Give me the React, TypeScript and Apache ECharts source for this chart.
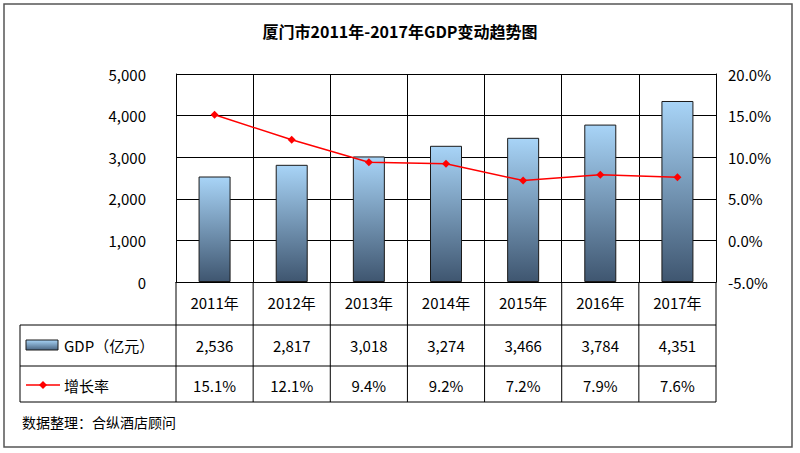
import { useEffect, useRef } from 'react';
import * as echarts from 'echarts';

const years = ['2011年', '2012年', '2013年', '2014年', '2015年', '2016年', '2017年'];
const gdp = [2536, 2817, 3018, 3274, 3466, 3784, 4351];
const growth = [15.1, 12.1, 9.4, 9.2, 7.2, 7.9, 7.6];

const FONT = '"Noto Sans CJK SC", "Noto Sans", sans-serif';

export default function App() {
  const chartRef = useRef<HTMLDivElement>(null);

  useEffect(() => {
    if (!chartRef.current) return;
    const chart = echarts.init(chartRef.current, null, { renderer: 'svg' });

    const gl = 176, gr = 716, gt = 74, gb = 282;
    const colW = (gr - gl) / years.length;
    const rowY = [282, 325, 366, 402];
    const tableL = 20;
    const lineStyle = { stroke: '#000', lineWidth: 1 };

    const graphic: any[] = [
      { type: 'rect', shape: { x: 4, y: 4, width: 788, height: 443 }, style: { fill: 'none', stroke: '#555', lineWidth: 1.5 } },
      // table horizontal lines
      { type: 'line', shape: { x1: tableL, y1: rowY[1], x2: gr, y2: rowY[1] }, style: lineStyle },
      { type: 'line', shape: { x1: tableL, y1: rowY[2], x2: gr, y2: rowY[2] }, style: lineStyle },
      { type: 'line', shape: { x1: tableL, y1: rowY[3], x2: gr, y2: rowY[3] }, style: lineStyle },
      { type: 'line', shape: { x1: tableL, y1: rowY[1], x2: tableL, y2: rowY[3] }, style: lineStyle },
      // legend cells
      { type: 'rect', shape: { x: 26, y: 340, width: 32, height: 10 }, style: { fill: new echarts.graphic.LinearGradient(0, 0, 0, 1, [{ offset: 0, color: '#a8d4f7' }, { offset: 1, color: '#4a6582' }]), stroke: '#1a1a1a', lineWidth: 1 } },
      { type: 'text', x: 64, y: 345, style: { text: 'GDP（亿元）', font: `15px ${FONT}`, fill: '#000', verticalAlign: 'middle' } },
      { type: 'line', shape: { x1: 26, y1: 385, x2: 60, y2: 385 }, style: { stroke: '#ff0000', lineWidth: 1.5 } },
      { type: 'polygon', shape: { points: [[43, 381], [47, 385], [43, 389], [39, 385]] }, style: { fill: '#ff0000' } },
      { type: 'text', x: 64, y: 385, style: { text: '增长率', font: `15px ${FONT}`, fill: '#000', verticalAlign: 'middle' } },
      { type: 'text', x: 22, y: 422, style: { text: '数据整理：合纵酒店顾问', font: `14px ${FONT}`, fill: '#000', verticalAlign: 'middle' } },
    ];
    for (let i = 0; i <= years.length; i++) {
      const x = gl + colW * i;
      graphic.push({ type: 'line', shape: { x1: x, y1: rowY[0], x2: x, y2: rowY[3] }, style: lineStyle });
    }
    years.forEach((_, i) => {
      const cx = gl + colW * (i + 0.5);
      graphic.push({ type: 'text', x: cx, y: 345, style: { text: gdp[i].toLocaleString('en-US'), font: `15px ${FONT}`, fill: '#000', align: 'center', verticalAlign: 'middle' } });
      graphic.push({ type: 'text', x: cx, y: 385, style: { text: growth[i].toFixed(1) + '%', font: `15px ${FONT}`, fill: '#000', align: 'center', verticalAlign: 'middle' } });
    });

    chart.setOption({
      animation: false,
      title: {
        text: '厦门市2011年-2017年GDP变动趋势图',
        left: 'center',
        top: 18,
        textStyle: { fontFamily: FONT, fontSize: 16, fontWeight: 'bold', color: '#000' },
      },
      grid: { left: gl, right: 800 - gr, top: gt, bottom: 453 - gb },
      xAxis: {
        type: 'category',
        data: years,
        axisTick: { show: false },
        axisLine: { lineStyle: { color: '#000' } },
        axisLabel: { fontFamily: FONT, fontSize: 15, color: '#000', margin: 13 },
        splitLine: { show: true, lineStyle: { color: '#000' } },
      },
      yAxis: [
        {
          type: 'value', min: 0, max: 5000, interval: 1000,
          axisLine: { show: true, lineStyle: { color: '#000' } },
          axisTick: { show: false },
          axisLabel: { fontFamily: FONT, fontSize: 15, color: '#000', margin: 30, formatter: (v: number) => v.toLocaleString('en-US') },
          splitLine: { show: true, lineStyle: { color: '#000' } },
        },
        {
          type: 'value', min: -5, max: 20, interval: 5,
          axisLine: { show: true, lineStyle: { color: '#000' } },
          axisTick: { show: false },
          axisLabel: { fontFamily: FONT, fontSize: 15, color: '#000', margin: 12, formatter: (v: number) => v.toFixed(1) + '%' },
          splitLine: { show: false },
        },
      ],
      series: [
        {
          type: 'bar', data: gdp, barWidth: 32,
          itemStyle: {
            color: new echarts.graphic.LinearGradient(0, 0, 0, 1, [{ offset: 0, color: '#a8d4f7' }, { offset: 1, color: '#3f5670' }]),
            borderColor: '#1a1a1a', borderWidth: 1,
          },
        },
        {
          type: 'line', yAxisIndex: 1, data: growth,
          symbol: 'diamond', symbolSize: 8,
          lineStyle: { color: '#ff0000', width: 1.5 },
          itemStyle: { color: '#ff0000' },
        },
      ],
      graphic,
    });

    return () => chart.dispose();
  }, []);

  return <div ref={chartRef} style={{ width: 800, height: 453, position: 'absolute', left: 0, top: 0 }} />;
}
